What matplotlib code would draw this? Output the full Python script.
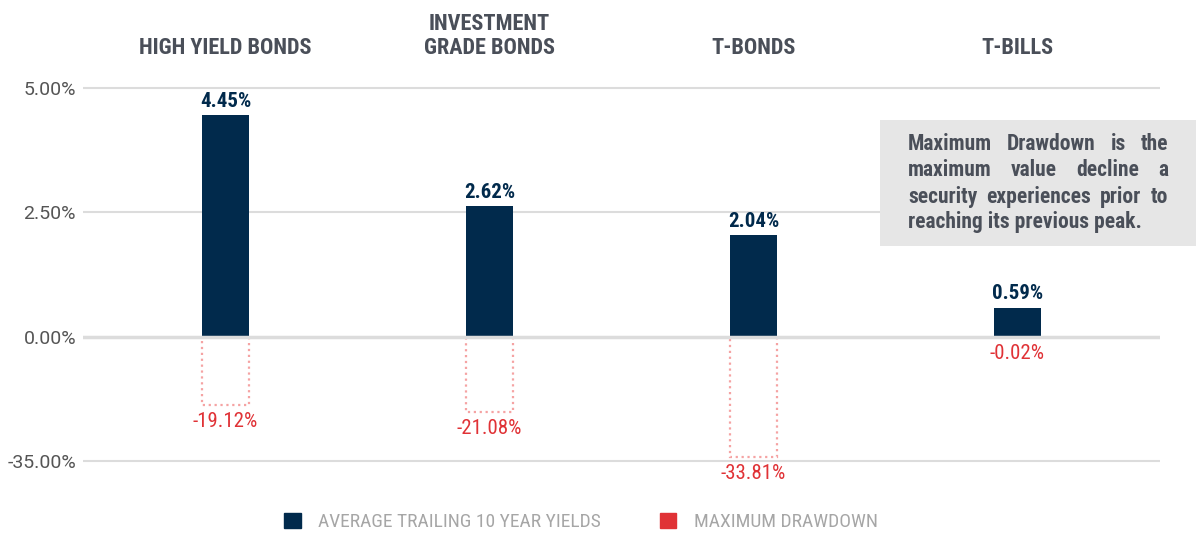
import numpy as np
import matplotlib
matplotlib.use("Agg")
import matplotlib.pyplot as plt
from matplotlib.patches import Patch, Rectangle

plt.rcParams['font.family'] = ['Roboto Condensed', 'Fira Sans Condensed', 'Archivo Narrow', 'DejaVu Sans']

categories = ['HIGH YIELD BONDS', 'INVESTMENT\nGRADE BONDS', 'T-BONDS', 'T-BILLS']
avg_yield = [4.45, 2.62, 2.04, 0.59]
max_drawdown = [-19.12, -21.08, -33.81, -0.02]
yticks = [5.0, 2.5, 0.0, -35.0]
legend_labels = ['AVERAGE TRAILING 10 YEAR YIELDS', 'MAXIMUM DRAWDOWN']
note_lines = ['Maximum Drawdown is the',
              'maximum value decline a',
              'security experiences prior to',
              'reaching its previous peak.']

NAVY = '#012a4c'
RED = '#e03236'
PINK = '#f5a3a3'
DARK = '#4a4f59'
GRID = '#dcdcdc'

# negative side compressed so that -35% takes the same room as +2.5%
neg_k = 35.0 / 2.5


def fwd(y):
    y = np.asarray(y, dtype=float)
    return np.where(y >= 0, y, y / neg_k)


def inv(t):
    t = np.asarray(t, dtype=float)
    return np.where(t >= 0, t, t * neg_k)


W, H = 1198, 534
fig = plt.figure(figsize=(W / 100, H / 100), dpi=100)
ax = fig.add_axes([83 / W, 1 - 465 / H, (1160 - 83) / W, 382 / H])
ax.set_yscale('function', functions=(fwd, inv))
ax.set_ylim(-36, 5.1)
ax.set_xlim(-0.54, 3.54)

x = np.arange(len(categories))
bw = 0.175

for t in yticks:
    ax.axhline(t, color=GRID, lw=1.5 if t != 0 else 2.5, zorder=1 if t != 0 else 4)

ax.bar(x, avg_yield, bw, color=NAVY, zorder=3)
ax.bar(x, max_drawdown, bw, fill=False, edgecolor=PINK, linestyle=':', linewidth=1.6, zorder=2)

for xi, v in zip(x, avg_yield):
    ax.annotate(f'{v:.2f}%', (xi, v), xytext=(0, 3), textcoords='offset points',
                ha='center', va='bottom', fontsize=15, fontweight='bold', color=NAVY)
for xi, v in zip(x, max_drawdown):
    ax.annotate(f'{v:.2f}%', (xi, v), xytext=(0, -5), textcoords='offset points',
                ha='center', va='top', fontsize=15, color=RED, zorder=5,
                bbox=dict(facecolor='white', edgecolor='none', pad=1))

ax.set_yticks(yticks)
ax.set_yticklabels([f'{t:.2f}%' for t in yticks], fontsize=14, color='#555555',
                   family=['Roboto', 'DejaVu Sans'])
ax.yaxis.set_minor_locator(matplotlib.ticker.NullLocator())
ax.tick_params(axis='y', length=0, pad=5)

ax.xaxis.tick_top()
ax.set_xticks(x)
ax.set_xticklabels(categories, fontsize=16, fontweight='bold', color=DARK, linespacing=1.15)
ax.tick_params(axis='x', length=0, pad=17)

for s in ax.spines.values():
    s.set_visible(False)

handles = [Patch(color=NAVY), Patch(color=RED)]
leg = fig.legend(handles, legend_labels, loc='center', bbox_to_anchor=(581 / W, 1 - 522 / H),
                 ncol=2, frameon=False, fontsize=14, handlelength=0.85, handleheight=0.85,
                 columnspacing=3.0, handletextpad=0.9)
for txt in leg.get_texts():
    txt.set_color('#a6a6a6')

# note box
fig.add_artist(Rectangle((880 / W, 1 - 246 / H), (1196 - 880) / W, 126 / H,
                         transform=fig.transFigure, facecolor='#e6e6e6', edgecolor='none', zorder=5))

fig.canvas.draw()
renderer = fig.canvas.get_renderer()
left, right = 908, 1168
line_y = [144, 170, 197, 222]
for i, (line, ly) in enumerate(zip(note_lines, line_y)):
    yf = 1 - ly / H
    if i == len(note_lines) - 1:
        fig.text(left / W, yf, line, fontsize=15.5, fontweight='bold', color=DARK,
                 va='center', ha='left', zorder=6)
        continue
    words = line.split()
    tx = [fig.text(0, yf, w, fontsize=15.5, fontweight='bold', color=DARK,
                   va='center', ha='left', zorder=6) for w in words]
    widths = [t.get_window_extent(renderer).width for t in tx]
    gap = max(3, (right - left - sum(widths)) / (len(words) - 1))
    pos = left
    for t, wd in zip(tx, widths):
        t.set_x(pos / W)
        pos += wd + gap

fig.savefig('out.png', dpi=100)
